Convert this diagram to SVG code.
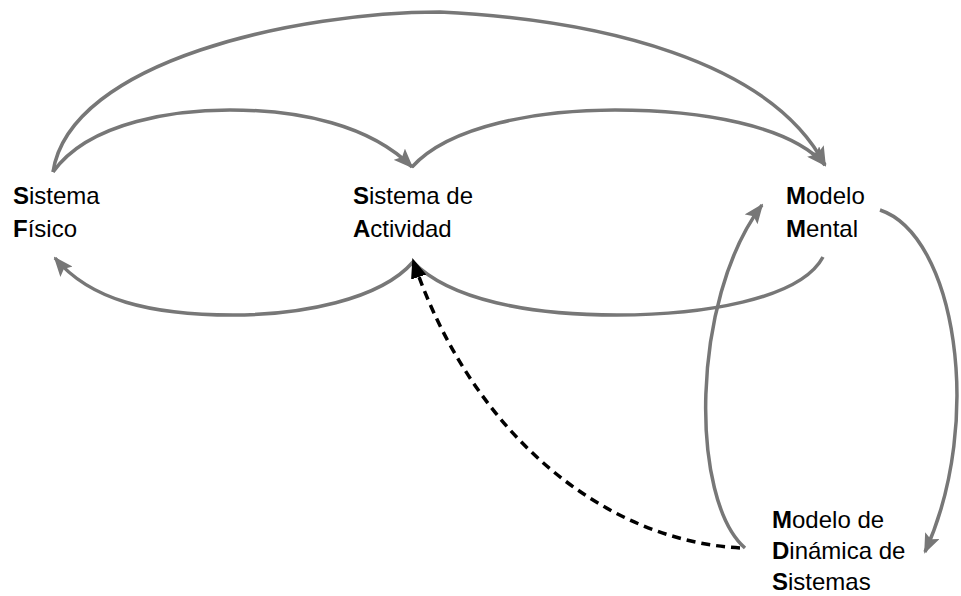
<svg xmlns="http://www.w3.org/2000/svg" width="961" height="596" viewBox="0 0 961 596">
<style>
.lbl{font-family:"Liberation Sans",Arial,sans-serif;font-size:24px;fill:#000}
.b{font-weight:bold}
.gc{fill:none;stroke:#777;stroke-width:3.5;marker-end:url(#ag)}
.dc{fill:none;stroke:#000;stroke-width:3.5;stroke-dasharray:9,6;marker-end:url(#ab)}
</style>
<defs>
<marker id="ag" viewBox="0 0 20 16" refX="18" refY="8" markerWidth="20" markerHeight="16" markerUnits="userSpaceOnUse" orient="auto"><path d="M0,0 L20,8 L0,16 L4,8 z" fill="#777"/></marker>
<marker id="ab" viewBox="0 0 20 16" refX="18" refY="8" markerWidth="20" markerHeight="16" markerUnits="userSpaceOnUse" orient="auto"><path d="M0,0 L20,8 L0,16 z" fill="#000"/></marker>
</defs>
<rect width="961" height="596" fill="#fff"/>
<g id="connectors">
<path class="gc" d="M53,172 C70,60 300,12 440,12 C600,20 770,60 825,165"/>
<path class="gc" d="M53,172 C90,120 180,110 230,110 C300,110 370,125 412,167"/>
<path class="gc" d="M412,167 C450,125 540,110 615,110 C700,110 790,125 825,165"/>
<path class="gc" d="M823,257 C800,300 700,315 617,315 C530,315 450,300 413,262 C380,300 300,315 233,315 C150,315 90,300 55,258"/>
<path class="gc" d="M880,210 C955,235 985,420 925,552"/>
<path class="gc" d="M745,548 C690,500 690,300 762,205"/>
<path class="dc" d="M740,548 C600,540 470,430 413,260"/>
</g>
<g id="sistema-fisico">
<text class="lbl" x="13" y="204"><tspan class="b">S</tspan>istema</text>
<text class="lbl" x="13" y="237"><tspan class="b">F</tspan>ísico</text>
</g>
<g id="sistema-actividad">
<text class="lbl" x="353" y="204"><tspan class="b">S</tspan>istema de</text>
<text class="lbl" x="353" y="237"><tspan class="b">A</tspan>ctividad</text>
</g>
<g id="modelo-mental">
<text class="lbl" x="786" y="204"><tspan class="b">M</tspan>odelo</text>
<text class="lbl" x="786" y="237"><tspan class="b">M</tspan>ental</text>
</g>
<g id="modelo-dinamica">
<text class="lbl" x="772" y="528"><tspan class="b">M</tspan>odelo de</text>
<text class="lbl" x="772" y="559"><tspan class="b">D</tspan>inámica de</text>
<text class="lbl" x="772" y="590"><tspan class="b">S</tspan>istemas</text>
</g>
</svg>
